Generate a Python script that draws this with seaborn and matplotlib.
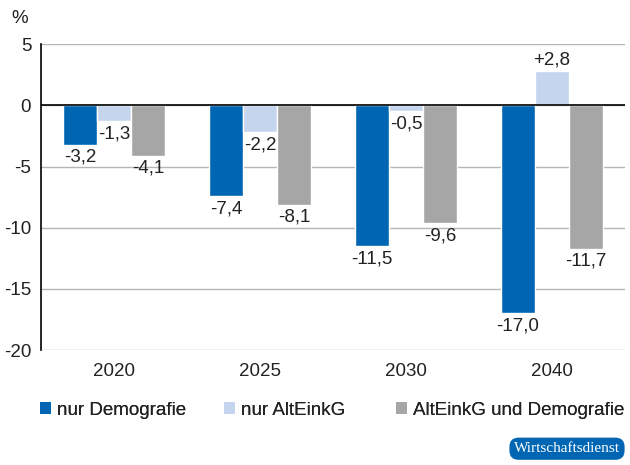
import pandas as pd
import seaborn as sns
import matplotlib.pyplot as plt
from matplotlib.patches import Patch

years = ["2020", "2025", "2030", "2040"]
series = ["nur Demografie", "nur AltEinkG", "AltEinkG und Demografie"]
nur_demografie = [-3.2, -7.4, -11.5, -17.0]
nur_alteinkg = [-1.3, -2.2, -0.5, 2.8]
beides = [-4.1, -8.1, -9.6, -11.7]
colors = ["#0066b3", "#c5d5ee", "#a6a6a6"]

df = pd.DataFrame({
    "Jahr": years * 3,
    "Wert": nur_demografie + nur_alteinkg + beides,
    "Serie": [series[0]] * 4 + [series[1]] * 4 + [series[2]] * 4,
})

sns.set_style("white")
plt.rcParams["font.family"] = ["Liberation Sans", "DejaVu Sans"]
plt.rcParams["axes.unicode_minus"] = False

fig = plt.figure(figsize=(6.3, 4.65), dpi=100)
ax = fig.add_axes([0.065, 0.247, 0.927, 0.658])

sns.barplot(data=df, x="Jahr", y="Wert", hue="Serie", palette=colors,
            width=0.7, saturation=1, ax=ax, legend=False)

# value labels with German decimal comma
for cont in ax.containers:
    for bar in cont:
        v = bar.get_height()
        txt = ("+" if v > 0 else "") + f"{v:.1f}".replace(".", ",")
        x = bar.get_x() + bar.get_width() / 2
        if v >= 0:
            ax.annotate(txt, (x, v), xytext=(0, 2), textcoords="offset points",
                        ha="center", va="bottom", fontsize=13.5, color="#222222")
        else:
            ax.annotate(txt, (x, v), xytext=(0, -3), textcoords="offset points",
                        ha="center", va="top", fontsize=13.5, color="#222222")

ax.set_ylim(-20, 5)
ax.set_yticks([5, 0, -5, -10, -15, -20])
ax.set_xlim(-0.5, 3.5)
ax.yaxis.grid(True, color="#b5b5b5", linewidth=1)
ax.set_axisbelow(True)
ax.axhline(0, color="black", linewidth=1.2)
for s in ["top", "right", "bottom"]:
    ax.spines[s].set_visible(False)
ax.spines["left"].set_color("black")
ax.spines["left"].set_linewidth(1.2)
ax.tick_params(axis="both", length=0, labelsize=13.5, colors="#222222")
ax.tick_params(axis="x", pad=9)
ax.tick_params(axis="y", pad=7)
ax.set_xlabel("")
ax.set_ylabel("")
fig.text(0.032, 0.96, "%", fontsize=13.5, ha="center", va="center", color="#222222")

# legend entries placed one by one to match the original spacing
for lbl, col, xpos in zip(series, colors, [0.063, 0.355, 0.628]):
    leg = fig.legend([Patch(facecolor=col, edgecolor="none")], [lbl],
                     loc="center left", bbox_to_anchor=(xpos, 0.118),
                     frameon=False, fontsize=13.5, handlelength=0.62,
                     handleheight=0.62, handletextpad=0.28, borderpad=0,
                     borderaxespad=0, labelcolor="#222222")
    fig.add_artist(leg)

fig.text(0.9, 0.035, "Wirtschaftsdienst", fontsize=11, color="white",
         family=["Liberation Serif", "DejaVu Serif"], ha="center", va="center",
         bbox=dict(boxstyle="round,pad=0.3,rounding_size=0.6",
                   facecolor="#0066b3", edgecolor="none"))

fig.savefig("out.png", dpi=100)
